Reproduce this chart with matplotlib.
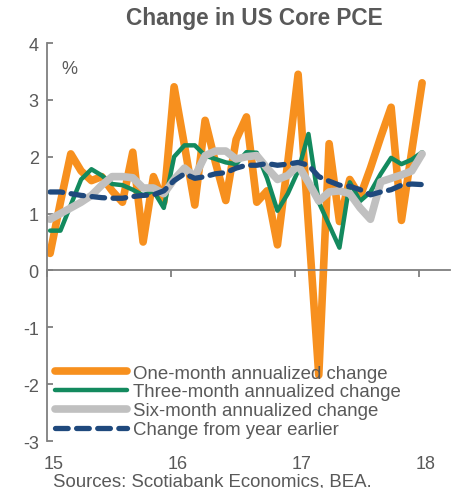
import numpy as np
import matplotlib
matplotlib.use("Agg")
import matplotlib.pyplot as plt

# monthly, Jan 2015 .. Jan 2018
one_month = [0.3, 1.2, 2.05, 1.75, 1.58, 1.65, 1.4, 1.2, 2.08, 0.5, 1.65, 1.2,
             3.23, 2.2, 1.15, 2.64, 1.9, 1.23, 2.3, 2.7, 1.2, 1.4, 0.45, 1.9,
             3.45, 0.8, -1.84, 2.23, 0.86, 1.6, 1.3, 1.8, 2.35, 2.87, 0.88, 2.1,
             3.3]
three_month = [0.7, 0.7, 1.15, 1.6, 1.78, 1.67, 1.52, 1.5, 1.42, 1.32, 1.4, 1.1,
               2.0, 2.2, 2.2, 2.02, 1.96, 1.9, 1.87, 2.08, 2.07, 1.62, 1.05, 1.35,
               1.75, 2.4, 1.2, 0.8, 0.4, 1.55, 1.22, 1.38, 1.7, 1.98, 1.87, 1.95,
               2.08]
six_month = [0.9, 1.0, 1.1, 1.2, 1.32, 1.5, 1.65, 1.65, 1.63, 1.45, 1.45, 1.35,
             1.6, 1.8, 1.65, 2.02, 2.1, 2.1, 1.96, 2.0, 2.02, 1.8, 1.6, 1.67,
             1.85, 1.55, 1.22, 1.38, 1.4, 1.35, 1.1, 0.9, 1.56, 1.62, 1.68, 1.75,
             2.05]
yoy = [1.38, 1.38, 1.35, 1.32, 1.3, 1.28, 1.27, 1.27, 1.3, 1.32, 1.33, 1.4,
       1.58, 1.7, 1.62, 1.65, 1.7, 1.72, 1.8, 1.85, 1.85, 1.88, 1.85, 1.87,
       1.9, 1.85, 1.65, 1.57, 1.5, 1.48, 1.42, 1.33, 1.38, 1.42, 1.5, 1.52,
       1.51]
year_ticks = [2015, 2016, 2017, 2018]
year_labels = ["15", "16", "17", "18"]

labels = ["One-month annualized change", "Three-month annualized change",
          "Six-month annualized change", "Change from year earlier"]

GREY_TXT = "#595959"
AXIS = "#7f7f7f"

plt.rcParams['font.family'] = ['Liberation Sans', 'DejaVu Sans']
plt.rcParams['axes.unicode_minus'] = False

x = 2015 + (np.arange(len(one_month)) + 0.3) / 12

fig = plt.figure(figsize=(4.52, 4.89), dpi=100)
ax = fig.add_axes([0.104, 0.0961, 0.8916, 0.8139])

ax.plot(x, one_month, color="#F7901E", lw=5.5, solid_capstyle="round",
        solid_joinstyle="round", label=labels[0])
ax.plot(x, three_month, color="#138A5E", lw=3.2, solid_capstyle="round",
        label=labels[1])
ax.plot(x, six_month, color="#C0C0C0", lw=5.5, solid_capstyle="round",
        label=labels[2])
ax.plot(x, yoy, color="#1F497D", lw=3.8, dashes=(2.4, 1.6),
        dash_capstyle="round", label=labels[3])

ax.set_ylim(-3, 4)
ax.set_xlim(2015, 2018.25)
ax.set_yticks(range(-3, 5))
ax.set_xticks(year_ticks)
ax.set_xticklabels([])

for side in ["top", "right"]:
    ax.spines[side].set_visible(False)
ax.spines["bottom"].set_position(("data", 0))
for side in ["left", "bottom"]:
    ax.spines[side].set_color(AXIS)
    ax.spines[side].set_linewidth(1.3)

ax.tick_params(axis="y", direction="in", length=4, color=AXIS, width=1.3,
               labelsize=13, labelcolor=GREY_TXT, pad=6)
ax.tick_params(axis="x", direction="out", length=5, color=AXIS, width=1.3)

for xt, lab in zip(year_ticks, year_labels):
    ax.text(xt + 0.05, -3.4, lab, ha="center", va="center", fontsize=13,
            color=GREY_TXT)

ax.text(0.035, 0.935, "%", transform=ax.transAxes, fontsize=13,
        color=GREY_TXT, va="center", ha="left")

leg = ax.legend(loc="lower left", bbox_to_anchor=(0.012, 0.0), frameon=False,
                fontsize=13.4, handlelength=3.9, handletextpad=0.3,
                labelspacing=0.1, borderpad=0, borderaxespad=0.15)
for t in leg.get_texts():
    t.set_color(GREY_TXT)

fig.text(254 / 452, 1 - 18 / 489, "Change in US Core PCE", ha="center",
         va="center", fontsize=16.3, fontweight="bold", color=GREY_TXT)
fig.text(53 / 452, 1 - 482 / 489, "Sources: Scotiabank Economics, BEA.",
         ha="left", va="center", fontsize=13.4, color=GREY_TXT)

fig.savefig("out.png", dpi=100)
